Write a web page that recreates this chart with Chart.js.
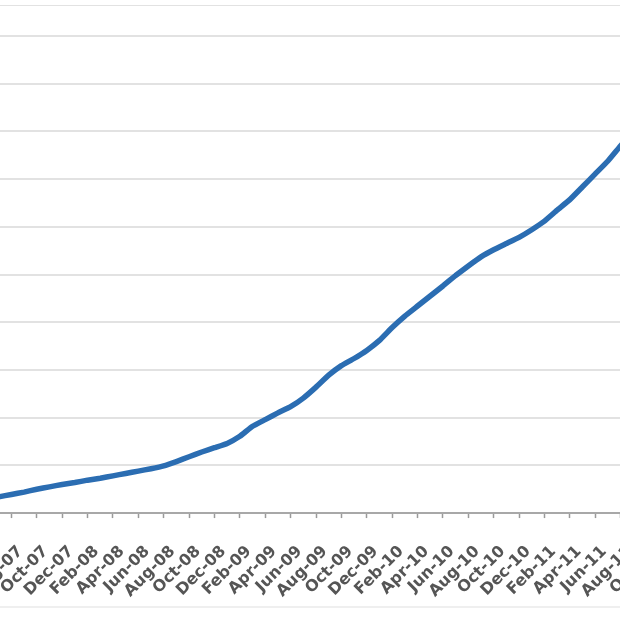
<!DOCTYPE html>
<html>
<head>
<meta charset="utf-8">
<script src="https://cdn.jsdelivr.net/npm/chart.js@4/dist/chart.umd.min.js"></script>
<style>
  html, body { margin: 0; padding: 0; background: #fff; overflow: hidden; }
  body { width: 620px; height: 620px; position: relative; }
  #wrap { position: absolute; left: -114px; top: 5px; width: 830px; height: 620px; }
  #frame { position: absolute; left: 0; top: 606px; width: 620px; border-top: 2px solid #efefef; }
</style>
</head>
<body>
<div id="wrap"><canvas id="myChart"></canvas></div>
<div id="frame"></div>
<script>
'use strict';

// monthly categories (every other one gets a label)
const months = [
  'Jun-07', 'Jul-07', 'Aug-07', 'Sep-07', 'Oct-07', 'Nov-07', 'Dec-07',
  'Jan-08', 'Feb-08', 'Mar-08', 'Apr-08', 'May-08', 'Jun-08', 'Jul-08', 'Aug-08', 'Sep-08', 'Oct-08', 'Nov-08', 'Dec-08',
  'Jan-09', 'Feb-09', 'Mar-09', 'Apr-09', 'May-09', 'Jun-09', 'Jul-09', 'Aug-09', 'Sep-09', 'Oct-09', 'Nov-09', 'Dec-09',
  'Jan-10', 'Feb-10', 'Mar-10', 'Apr-10', 'May-10', 'Jun-10', 'Jul-10', 'Aug-10', 'Sep-10', 'Oct-10', 'Nov-10', 'Dec-10',
  'Jan-11', 'Feb-11', 'Mar-11', 'Apr-11', 'May-11', 'Jun-11', 'Jul-11', 'Aug-11', 'Sep-11', 'Oct-11'
];

const values = [
  2.9, 3.4, 3.9, 4.4, 5.0, 5.5, 6.0,
  6.4, 6.9, 7.3, 7.8, 8.3, 8.8, 9.3, 9.9, 10.8, 11.8, 12.8, 13.7,
  14.6, 16.1, 18.2, 19.6, 21.0, 22.3, 24.1, 26.4, 28.9, 30.9, 32.4, 34.1,
  36.2, 38.9, 41.3, 43.4, 45.5, 47.6, 49.8, 51.8, 53.7, 55.2, 56.5, 57.8,
  59.4, 61.2, 63.5, 65.7, 68.4, 71.1, 73.8, 77.0, 80.0, 83.0
];

const yMin = 0;
const yMax = 106.5;
const yStep = 10;

const canvas = document.getElementById('myChart');

const data = {
  labels: months,
  datasets: [
    {
      data: values,
      borderColor: '#2b6db2',
      borderWidth: 5.5,
      borderCapStyle: 'round',
      borderJoinStyle: 'round',
      pointRadius: 0,
      tension: 0.1,
      fill: false
    }
  ]
};

const options = {
  responsive: true,
  maintainAspectRatio: false,
  animation: false,
  layout: { padding: { left: 100, right: 70, top: 0, bottom: 0 } },
  plugins: {
    legend: { display: false },
    tooltip: { enabled: false }
  },
  scales: {
    x: {
      offset: false,
      grid: {
        drawOnChartArea: false,
        tickLength: 5,
        tickWidth: 1.5,
        tickColor: (ctx) => (ctx.index % 2 === 0 ? '#9a9a9a' : 'rgba(0,0,0,0)')
      },
      border: { color: '#a8a8a8', width: 2 },
      ticks: {
        autoSkip: false,
        maxRotation: 45,
        minRotation: 45,
        padding: 24,
        labelOffset: 9,
        color: '#555',
        font: { family: 'DejaVu Sans', size: 16, weight: 'bold' },
        callback: function (val, i) {
          return i % 2 === 0 ? this.getLabelForValue(val) : '';
        }
      }
    },
    y: {
      min: yMin,
      max: yMax,
      ticks: { stepSize: yStep, display: false },
      grid: { color: '#e2e2e2', lineWidth: 2, drawTicks: false },
      border: { display: false }
    }
  }
};

const chart = new Chart(canvas, {
  type: 'line',
  data: data,
  options: options
});
</script>
</body>
</html>
